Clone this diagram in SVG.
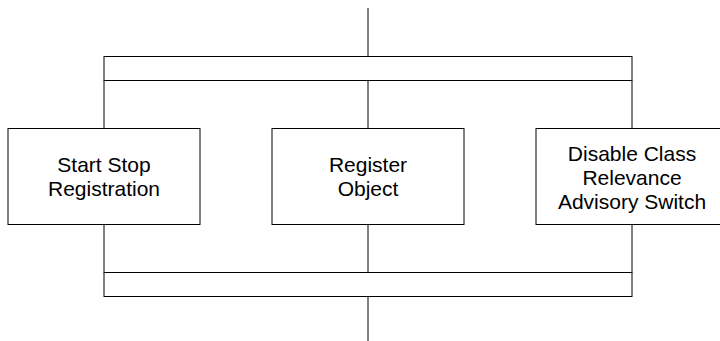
<svg xmlns="http://www.w3.org/2000/svg" width="720" height="341" viewBox="0 0 720 341">
<style>
.box{fill:#fff;stroke:#000;stroke-width:1}
.ln{stroke:#000;stroke-width:1;fill:none}
.t{font-family:"Liberation Sans",Arial,sans-serif;font-size:21px;fill:#000;text-anchor:middle}
</style>
<rect width="720" height="341" fill="#fff"/>
<g id="connectors">
<line class="ln" x1="368" y1="8" x2="368" y2="57.5"/>
<line class="ln" x1="104" y1="80.5" x2="104" y2="128.5"/>
<line class="ln" x1="368" y1="80.5" x2="368" y2="128.5"/>
<line class="ln" x1="632" y1="80.5" x2="632" y2="128.5"/>
<line class="ln" x1="104" y1="224.5" x2="104" y2="272.5"/>
<line class="ln" x1="368" y1="224.5" x2="368" y2="272.5"/>
<line class="ln" x1="632" y1="224.5" x2="632" y2="272.5"/>
<line class="ln" x1="368" y1="296.5" x2="368" y2="341"/>
</g>
<g id="fork-top"><rect class="box" x="104" y="56.5" width="528" height="24"/></g>
<g id="join-bottom"><rect class="box" x="104" y="272.5" width="528" height="24"/></g>
<g id="node-start-stop">
<rect class="box" x="8" y="128.5" width="192" height="96"/>
<text class="t" x="104" y="172">Start Stop</text>
<text class="t" x="104" y="196">Registration</text>
</g>
<g id="node-register-object">
<rect class="box" x="272" y="128.5" width="192" height="96"/>
<text class="t" x="368" y="172">Register</text>
<text class="t" x="368" y="196">Object</text>
</g>
<g id="node-disable-class">
<rect class="box" x="536" y="128.5" width="192" height="96"/>
<text class="t" x="632" y="161">Disable Class</text>
<text class="t" x="632" y="185">Relevance</text>
<text class="t" x="632" y="209">Advisory Switch</text>
</g>
</svg>
